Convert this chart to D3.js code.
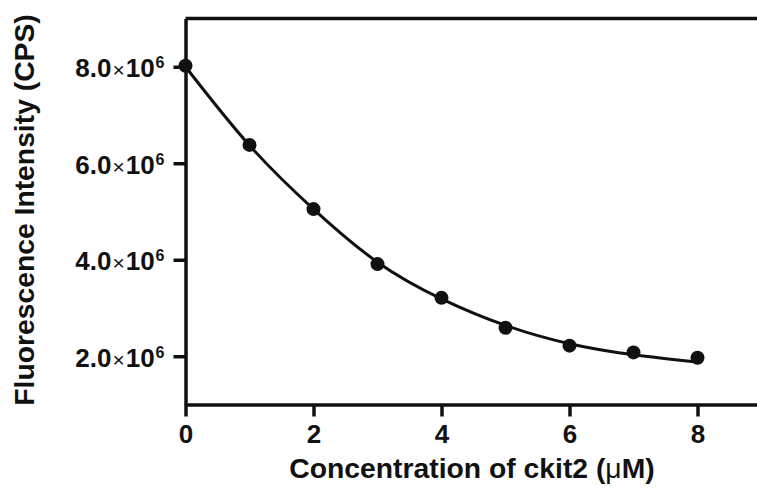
<!DOCTYPE html>
<html><head><meta charset="utf-8">
<script src="https://cdn.jsdelivr.net/npm/d3@7"></script>
<style>body{margin:0;background:#fff;overflow:hidden}</style>
</head><body>
<svg id="c" width="757" height="494"></svg>
<script>
// Data
const concentrations = [0, 1, 2, 3, 4, 5, 6, 7, 8];
const intensities = [8.02e6, 6.38e6, 5.05e6, 3.91e6, 3.21e6, 2.59e6, 2.22e6, 2.08e6, 1.97e6];
// Fitted curve
const fitX = [0, 1, 2, 3, 4, 5, 6, 7, 8];
const fitY = [8.0e6, 6.37e6, 5.05e6, 3.95e6, 3.19e6, 2.64e6, 2.26e6, 2.03e6, 1.88e6];
const xTicks = [0, 2, 4, 6, 8];
const yTicks = [2e6, 4e6, 6e6, 8e6];
const yTickMantissa = ["2.0", "4.0", "6.0", "8.0"];
const yTickExponent = "6";
const xTitleParts = ["Concentration of ckit2 (", "\u03BC", "M)"];
const yTitle = "Fluorescence Intensity (CPS)";

const svg = d3.select("#c");
const mLeft = 185.5, mBottom = 404.5, mTop = 18.5;
const x = d3.scaleLinear().domain([0, 9]).range([mLeft, mLeft + 9 * 64]);
const y = d3.scaleLinear().domain([1e6, 9e6]).range([mBottom, mTop]);

const font = "'Liberation Sans', Arial, sans-serif";
const axisW = 3.5;

// top frame line
svg.append("line")
  .attr("x1", mLeft).attr("x2", 757).attr("y1", mTop).attr("y2", mTop)
  .attr("stroke", "#111").attr("stroke-width", axisW);

// x axis
const gx = svg.append("g").attr("transform", `translate(0,${mBottom})`)
  .call(d3.axisBottom(x).tickValues(xTicks).tickSize(12).tickSizeOuter(0).tickPadding(8).tickFormat(d3.format("d")));
gx.select(".domain").attr("stroke", "#111").attr("stroke-width", axisW);
gx.selectAll(".tick line").attr("stroke", "#111").attr("stroke-width", axisW);
gx.selectAll(".tick text").attr("font-family", font).attr("font-weight", "bold")
  .attr("font-size", 26).attr("fill", "#111").attr("dy", "0.72em");

// y axis
const gy = svg.append("g").attr("transform", `translate(${mLeft},0)`)
  .call(d3.axisLeft(y).tickValues(yTicks).tickSize(12).tickSizeOuter(0).tickFormat(() => ""));
gy.select(".domain").attr("stroke", "#111").attr("stroke-width", axisW);
gy.selectAll(".tick line").attr("stroke", "#111").attr("stroke-width", axisW);
gy.selectAll(".tick text").each(function(d, i) {
  const t = d3.select(this)
    .attr("x", -21).attr("dy", null).attr("y", 10)
    .attr("text-anchor", "end").attr("font-family", font).attr("fill", "#111");
  t.append("tspan").attr("font-weight", "bold").attr("font-size", 26).text(yTickMantissa[i]);
  t.append("tspan").attr("font-weight", "normal").attr("font-size", 21).attr("dx", 1).text("\u00D7");
  t.append("tspan").attr("font-weight", "bold").attr("font-size", 26).attr("dx", 1).text("10");
  t.append("tspan").attr("font-weight", "bold").attr("font-size", 16).attr("dy", -9).attr("dx", 1).text(yTickExponent);
});

// fitted curve
const line = d3.line().x(d => x(d[0])).y(d => y(d[1])).curve(d3.curveNatural);
svg.append("path").datum(fitX.map((v, i) => [v, fitY[i]]))
  .attr("d", line).attr("fill", "none").attr("stroke", "#111").attr("stroke-width", 3);

// points
svg.append("g").selectAll("circle").data(concentrations.map((v, i) => [v, intensities[i]]))
  .join("circle").attr("cx", d => x(d[0])).attr("cy", d => y(d[1])).attr("r", 7).attr("fill", "#111");

// titles
const xt = svg.append("text").attr("x", 472).attr("y", 478).attr("text-anchor", "middle")
  .attr("font-family", font).attr("font-size", 28.3).attr("font-weight", "bold").attr("fill", "#111");
xt.append("tspan").text(xTitleParts[0]);
xt.append("tspan").attr("font-weight", "normal").text(xTitleParts[1]);
xt.append("tspan").text(xTitleParts[2]);
svg.append("text").attr("transform", "translate(34,210) rotate(-90)").attr("text-anchor", "middle")
  .attr("font-family", font).attr("font-size", 28.3).attr("font-weight", "bold").attr("fill", "#111").text(yTitle);
</script>
</body></html>
